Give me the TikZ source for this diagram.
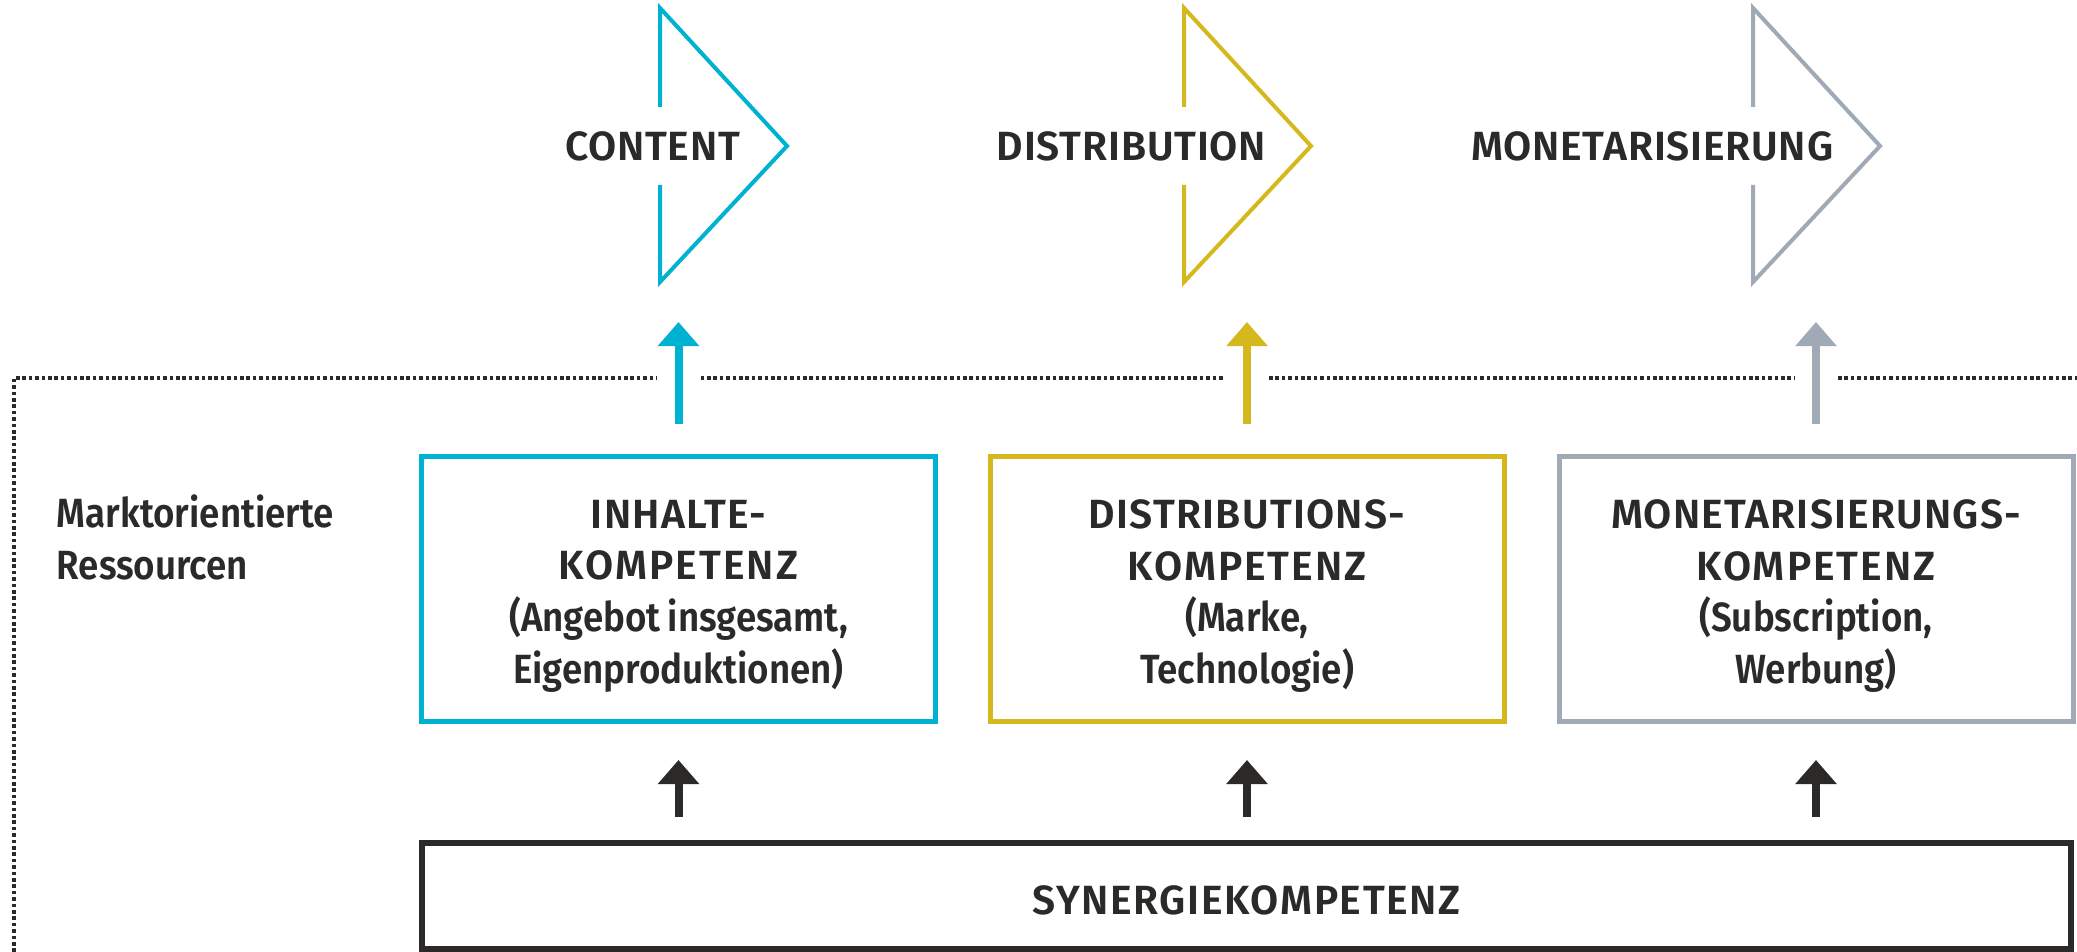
\documentclass[tikz,border=0pt]{standalone}
\usepackage{fontspec}
\setmainfont{Fira Sans}[BoldFont={Fira Sans SemiBold}]
\newfontfamily\narrowfont{Fira Sans}[FakeStretch=0.9,WordSpace=0.8,BoldFont={Fira Sans SemiBold}]
\newcommand\spaced[2][3]{{\addfontfeature{LetterSpace=#1}#2}}
\newcommand\narrow[1]{{\narrowfont\bfseries #1}}
\usepackage{tikz}
\usetikzlibrary{arrows.meta,positioning,calc}
\definecolor{cyanline}{HTML}{00B2D2}
\definecolor{goldline}{HTML}{D4B81E}
\definecolor{grayline}{HTML}{A0AAB5}
\definecolor{ink}{HTML}{2B2A29}
\tikzset{
% chevrons, competence boxes and the arrows between them
chevron/.style={line width=1pt,line join=miter},
kompetenz box/.style={draw,line width=1.25pt,minimum width=128.5pt,minimum height=66.25pt,inner sep=0pt},
box text/.style={align=center,inner sep=0pt,yshift=-1.75pt},
synergie box/.style={draw=ink,line width=1.5pt,minimum width=412.25pt,minimum height=26.5pt,inner sep=0pt,text height=9pt,text depth=0pt},
label text/.style={inner sep=0pt},
up arrow/.style={line width=2pt,-{Triangle[length=6pt,width=10pt]}},
frame line/.style={draw=ink,line width=1pt,dash pattern=on 0.9pt off 0.7pt}
}

\begin{document}
\begin{tikzpicture}[x=0.25pt,y=-0.25pt,text=ink,font=\fontsize{10.2pt}{12.9pt}\selectfont\bfseries]
\useasboundingbox (0,0) rectangle (2077,952);
% the three chevrons
\draw[chevron,cyanline] (660,107) -- (660,8) -- (787,146) -- (660,282) -- (660,185);
\draw[chevron,goldline] (1184,107) -- (1184,8) -- (1311,146) -- (1184,282) -- (1184,185);
\draw[chevron,grayline] (1753,107) -- (1753,8) -- (1880,146) -- (1753,282) -- (1753,185);
\coordinate (tip1) at (787,146);
\coordinate (tip2) at (1311,146);
\coordinate (tip3) at (1880,146);
\coordinate (bot1) at (660,282);
\coordinate (bot2) at (1184,282);
\coordinate (bot3) at (1753,282);
\node[label text,left=11.5pt of tip1] (content) {\spaced[2]{CONTENT}};
\node[label text,left=11pt of tip2] (distribution) {\spaced[2]{DISTRIBUTION}};
\node[label text,left=11.5pt of tip3] (monet) {\spaced[2]{MONETARISIERUNG}};
% competence boxes
\node[kompetenz box,draw=cyanline] (inh) at (678.5,589) {};
\node[kompetenz box,draw=goldline] (distk) at (1247,589) {};
\node[kompetenz box,draw=grayline] (monk) at (1816,589) {};
\node[box text] (inhtext) at (inh.center) {\spaced{INHALTE-}\\\spaced[5]{KOMPETENZ}\\\narrow{(Angebot insgesamt,}\\\narrow{Eigenproduktionen)}};
\node[box text] (distktext) at (distk.center) {\spaced{DISTRIBUTIONS-}\\\spaced[5]{KOMPETENZ}\\\narrow{(Marke,}\\\narrow{Technologie)}};
\node[box text] (monktext) at (monk.center) {\spaced{MONETARISIERUNGS-}\\\spaced[5]{KOMPETENZ}\\\narrow{(Subscription,}\\\narrow{Werbung)}};
\node[synergie box] (syn) at (1246.5,896) {\spaced[4]{SYNERGIEKOMPETENZ}};
\node[label text,anchor=north west,align=left] (markt) at (56,494) {\narrow{Marktorientierte}\\\narrow{Ressourcen}};
% dotted frame with gaps for the arrows
\coordinate (fbot) at (14,952);
\coordinate (ftop) at (14,378);
\coordinate (fend) at (2077,378);
\draw[frame line] (fbot) -- (ftop) -- ($(ftop -| inh.north)+(-22,0)$);
\draw[frame line] ($(ftop -| inh.north)+(22,0)$) -- ($(ftop -| distk.north)+(-22,0)$);
\draw[frame line] ($(ftop -| distk.north)+(22,0)$) -- ($(ftop -| monk.north)+(-22,0)$);
\draw[frame line] ($(ftop -| monk.north)+(22,0)$) -- (fend);
% arrows
\draw[up arrow,cyanline,shorten <=7.5pt,shorten >=10pt] (inh.north) -- (inh.north |- bot1);
\draw[up arrow,goldline,shorten <=7.5pt,shorten >=10pt] (distk.north) -- (distk.north |- bot2);
\draw[up arrow,grayline,shorten <=7.5pt,shorten >=10pt] (monk.north) -- (monk.north |- bot3);
\draw[up arrow,ink,shorten <=5.75pt,shorten >=9pt] (syn.north -| inh.south) -- (inh.south);
\draw[up arrow,ink,shorten <=5.75pt,shorten >=9pt] (syn.north -| distk.south) -- (distk.south);
\draw[up arrow,ink,shorten <=5.75pt,shorten >=9pt] (syn.north -| monk.south) -- (monk.south);
\end{tikzpicture}
\end{document}
